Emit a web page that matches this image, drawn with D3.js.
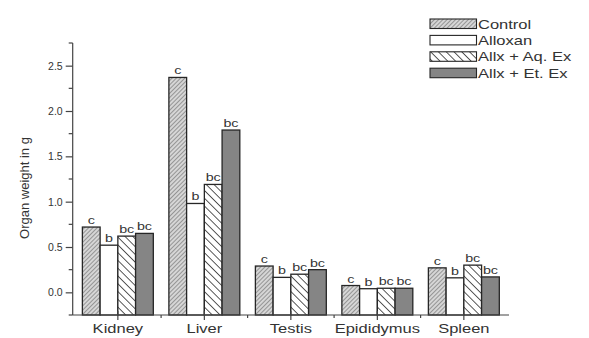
<!DOCTYPE html>
<html><head><meta charset="utf-8">
<script src="https://cdn.jsdelivr.net/npm/d3@7"></script>
<style>
html,body{margin:0;padding:0;background:#fff;}
svg{display:block;font-family:"Liberation Sans",Arial,sans-serif;}
</style></head>
<body><svg id="c" width="589" height="338"></svg>
<script>
const categories = ["Kidney", "Liver", "Testis", "Epididymus", "Spleen"];
const seriesNames = ["Control", "Alloxan", "Allx + Aq. Ex", "Allx + Et. Ex"];
const control = [0.72, 2.37, 0.29, 0.075, 0.27];
const alloxan = [0.52, 0.98, 0.165, 0.04, 0.16];
const aqEx    = [0.62, 1.19, 0.20, 0.045, 0.30];
const etEx    = [0.65, 1.79, 0.25, 0.045, 0.17];
const sigControl = ["c", "c", "c", "c", "c"];
const sigAlloxan = ["b", "b", "b", "b", "b"];
const sigAqEx    = ["bc", "bc", "bc", "bc", "bc"];
const sigEtEx    = ["bc", "bc", "bc", "bc", "bc"];
const yTicks = [0.0, 0.5, 1.0, 1.5, 2.0, 2.5];
const yMinorTicks = [-0.25, 0.25, 0.75, 1.25, 1.75, 2.25, 2.75];
const yLabel = "Organ weight in g";

const seriesValues = [control, alloxan, aqEx, etEx];
const seriesSig = [sigControl, sigAlloxan, sigAqEx, sigEtEx];
const fills = ["url(#pCtrl)", "#ffffff", "url(#pAq)", "#858585"];
const textCol = "#333";
const STRETCH = 1.27;

const svg = d3.select("#c");
const defs = svg.append("defs");
// control: fine "/" hatch on gray
const p1 = defs.append("pattern").attr("id","pCtrl").attr("patternUnits","userSpaceOnUse")
  .attr("width",3).attr("height",3).attr("patternTransform","rotate(45)");
p1.append("rect").attr("width",3).attr("height",3).attr("fill","#d6d6d6");
p1.append("line").attr("x1",0).attr("y1",0).attr("x2",0).attr("y2",3)
  .attr("stroke","#5e5e5e").attr("stroke-width",1.1);
// aq: wider "\" hatch black on white
const p2 = defs.append("pattern").attr("id","pAq").attr("patternUnits","userSpaceOnUse")
  .attr("width",5.5).attr("height",5.5).attr("patternTransform","rotate(-45)");
p2.append("rect").attr("width",5.5).attr("height",5.5).attr("fill","#fff");
p2.append("line").attr("x1",0).attr("y1",0).attr("x2",0).attr("y2",5.5)
  .attr("stroke","#222").attr("stroke-width",1.5);

const x0 = 72.7, x1 = 509, yTop = 43, yBot = 315;
const x = d3.scaleBand().domain(categories).range([x0, x1]).paddingInner(0).paddingOuter(0.022);
const groupW = x.bandwidth() * 0.82;
const xs = d3.scaleBand().domain(d3.range(seriesNames.length)).range([0, groupW]).padding(0);
const y = d3.scaleLinear().domain([-0.25, 2.75]).range([yBot, yTop]);

function stretch(sel, k) {
  sel.each(function(){
    const w = this.getComputedTextLength();
    d3.select(this).attr("textLength", w * k).attr("lengthAdjust", "spacingAndGlyphs");
  });
}

// bars
const groups = svg.append("g").selectAll("g").data(categories).join("g")
  .attr("transform", d => `translate(${x(d) + (x.bandwidth() - groupW) / 2},0)`);
seriesValues.forEach((vals, si) => {
  groups.append("rect")
    .attr("x", xs(si)).attr("width", xs.bandwidth())
    .attr("y", (d, i) => y(vals[i]))
    .attr("height", (d, i) => y(-0.25) - y(vals[i]))
    .attr("fill", fills[si]).attr("stroke", "#262626").attr("stroke-width", 1.3);
});
seriesSig.forEach((sig, si) => {
  groups.append("text")
    .attr("x", xs(si) + xs.bandwidth() / 2)
    .attr("y", (d, i) => y(seriesValues[si][i]) - 3)
    .attr("text-anchor", "middle").attr("font-size", 11).attr("fill", textCol)
    .text((d, i) => sig[i]).call(stretch, 1.3);
});

// x axis
svg.append("line").attr("x1", x0).attr("x2", x1).attr("y1", yBot).attr("y2", yBot)
  .attr("stroke", "#444").attr("stroke-width", 1.2);
const xAxis = d3.axisBottom(x).tickSize(0).tickPadding(0);
const gx = svg.append("g").attr("transform", `translate(0,${yBot})`).call(xAxis);
gx.select(".domain").remove();
gx.selectAll(".tick line").remove();
gx.selectAll(".tick").append("line").attr("y1", -4).attr("y2", 5).attr("stroke", "#444").attr("stroke-width", 1.2);
gx.selectAll(".tick text").attr("y", 17.5).attr("dy", null).attr("font-size", 13)
  .attr("fill", textCol).attr("font-family", "Liberation Sans, Arial, sans-serif").call(stretch, STRETCH);
// minor x ticks between categories
svg.append("g").selectAll("line").data(categories.slice(1)).join("line")
  .attr("x1", d => x(d)).attr("x2", d => x(d)).attr("y1", yBot).attr("y2", yBot + 3)
  .attr("stroke", "#444").attr("stroke-width", 1.2);

// y axis
svg.append("line").attr("x1", x0).attr("x2", x0).attr("y1", yTop).attr("y2", yBot)
  .attr("stroke", "#444").attr("stroke-width", 1.2);
const yAxis = d3.axisLeft(y).tickValues(yTicks).tickFormat(d3.format(".1f")).tickSize(7).tickPadding(3);
const gy = svg.append("g").attr("transform", `translate(${x0},0)`).call(yAxis);
gy.select(".domain").remove();
gy.selectAll(".tick line").attr("stroke", "#444").attr("stroke-width", 1.2);
gy.selectAll(".tick text").attr("font-size", 10.5).attr("fill", textCol)
  .attr("font-family", "Liberation Sans, Arial, sans-serif");
svg.append("g").selectAll("line").data(yMinorTicks).join("line")
  .attr("x1", x0 - 4).attr("x2", x0).attr("y1", d => y(d)).attr("y2", d => y(d))
  .attr("stroke", "#444").attr("stroke-width", 1.2);

// y label
svg.append("text").attr("transform", `translate(29,${(yTop + yBot) / 2 + 9}) rotate(-90)`)
  .attr("text-anchor", "middle").attr("font-size", 13).attr("fill", textCol).text(yLabel);

// legend
const lg = svg.append("g").attr("transform", "translate(430,19)");
const li = lg.selectAll("g").data(seriesNames).join("g")
  .attr("transform", (d, i) => `translate(0,${i * 16.4})`);
li.append("rect").attr("width", 46.5).attr("height", 9.5)
  .attr("fill", (d, i) => fills[i]).attr("stroke", "#262626").attr("stroke-width", 1.1);
li.append("text").attr("x", 48).attr("y", 9.5).attr("font-size", 13).attr("fill", textCol)
  .text(d => d).call(stretch, STRETCH);
</script></body></html>
